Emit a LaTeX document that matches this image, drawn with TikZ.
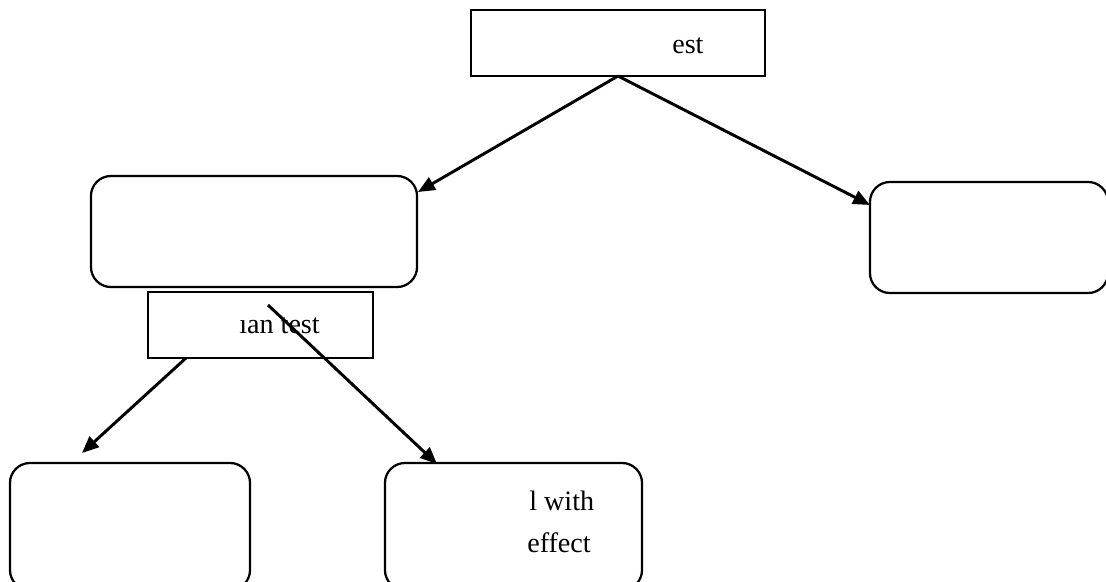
\documentclass[tikz,border=0pt]{standalone}
\usepackage{fontspec}
\setmainfont{Liberation Serif}
\usetikzlibrary{arrows.meta}

\begin{document}
\begin{tikzpicture}[x=0.025cm, y=-0.025cm,
    box/.style={draw, line width=1.6pt, inner sep=0pt, outer sep=0pt},
    rbox/.style={box, rounded corners=0.5cm},
    lbl/.style={inner sep=0pt, anchor=base west, font=\fontsize{20pt}{30pt}\selectfont},
    arr/.style={line width=2.1pt, -{Triangle[length=12pt, width=10pt]}}]
  \useasboundingbox (0,0) rectangle (1106,581);
  \clip (0,0) rectangle (1106,581);

  % boxes
  \node (root) [box, minimum width=7.35cm, minimum height=1.65cm] at (618,43) {};
  \node (lnode) [rbox, minimum width=8.15cm, minimum height=2.775cm] at (254,231.5) {};
  \node (rnode) [rbox, minimum width=5.95cm, minimum height=2.775cm] at (989,237.5) {};
  \node (sub) [box, minimum width=5.625cm, minimum height=1.65cm] at (260.5,325) {};
  \node (leafl) [rbox, minimum width=6cm, minimum height=3.175cm] at (130,526.5) {};
  \node (leafr) [rbox, minimum width=6.425cm, minimum height=3.175cm] at (513.5,526.5) {};

  % texts
  \node (rootT) [lbl] at (672,53) {est};
  \node (subT) [lbl] at (239,333) {ıan test};
  \node (leafrA) [lbl] at (529,510) {l with};
  \node (leafrB) [lbl] at (527,552) {effect};

  % free ends
  \coordinate (e1) at (418,192);
  \coordinate (e2) at (870,205);
  \coordinate (s3) at (186,358);
  \coordinate (e3) at (82,453);
  \coordinate (s4) at (268,305);
  \coordinate (e4) at (437,464);

  \draw[arr] (root.south) -- (e1);
  \draw[arr] (root.south) -- (e2);
  \draw[arr] (s3) -- (e3);
  \draw[arr] (s4) -- (e4);
\end{tikzpicture}
\end{document}
